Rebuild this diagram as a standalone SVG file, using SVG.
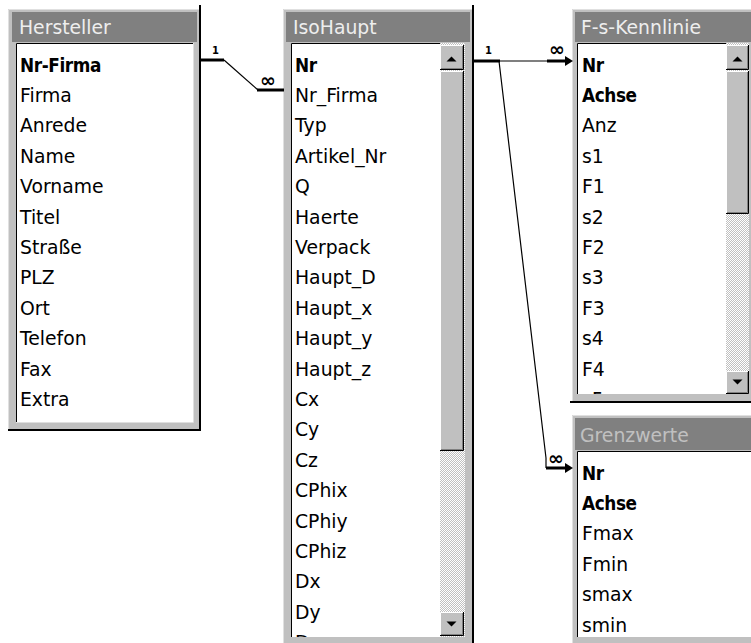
<svg xmlns="http://www.w3.org/2000/svg" width="751" height="643" viewBox="0 0 751 643">
<style>
.frame{fill:#c0c0c0}
.hi{fill:none;stroke:#e0e0e0;stroke-width:1}
.dk{fill:none;stroke:#000;stroke-width:2}
.title{fill:#808080}
.ttext{font-family:"DejaVu Sans",sans-serif;font-size:18.8px;fill:#eeeeee}
.ttext.inactive{fill:#c0c0c0}
.list{fill:#fff}
.sunk{fill:none;stroke:#000;stroke-width:1}
.sunk2{fill:none;stroke:#808080;stroke-width:1}
.sunkhi{fill:none;stroke:#dfdfdf;stroke-width:1}
.f{font-family:"DejaVu Sans",sans-serif;font-size:18.8px;fill:#000}
.k{font-family:"DejaVu Sans Condensed","DejaVu Sans",sans-serif;font-stretch:condensed;font-weight:bold;font-size:18.8px;fill:#000;letter-spacing:-0.4px}
.btn{fill:#c0c0c0}
.bw{fill:none;stroke:#fff;stroke-width:1}
.bb{fill:none;stroke:#000;stroke-width:1}
.bg{fill:none;stroke:#808080;stroke-width:1}
.thin{fill:none;stroke:#000;stroke-width:1.2}
.thick{fill:none;stroke:#000;stroke-width:3}
.lbl{font-family:"DejaVu Sans",sans-serif;font-weight:bold;font-size:10px;fill:#000;text-anchor:middle}
.inf{font-family:"DejaVu Sans",sans-serif;font-weight:bold;font-size:19px;fill:#000;text-anchor:middle}
</style>
<defs>
<pattern id="dither" width="2" height="2" patternUnits="userSpaceOnUse">
<rect width="2" height="2" fill="#c0c0c0"/>
<rect width="1" height="1" fill="#fff"/>
<rect x="1" y="1" width="1" height="1" fill="#fff"/>
</pattern>
<clipPath id="cIso"><rect x="291" y="43" width="149" height="594"/></clipPath>
<clipPath id="cFs"><rect x="577" y="43" width="149" height="351"/></clipPath>
<marker id="arr" viewBox="0 0 8 10" refX="1" refY="5" markerWidth="8" markerHeight="10" markerUnits="userSpaceOnUse" orient="auto">
<path d="M0 0 L8 5 L0 10 Z" fill="#000"/>
</marker>
</defs>
<rect width="751" height="643" fill="#fff"/>

<g id="hersteller">
<rect class="frame" x="8" y="9" width="193" height="422"/>
<path class="hi" d="M8.5 431 V9.5 H200"/>
<path class="dk" d="M200 5 V430 H8"/>
<rect class="title" x="12" y="12" width="185" height="30"/>
<text class="ttext" x="19" y="33.5">Hersteller</text>
<rect class="list" x="16" y="43" width="177" height="379"/>
<path class="sunk" d="M16.5 422 V43.5 H193"/>
<path class="sunkhi" d="M193.5 43 V422.5 H16"/>
<text class="k" x="20" y="71.5">Nr-Firma</text>
<text class="f" x="20" y="101.9">Firma</text>
<text class="f" x="20" y="132.3">Anrede</text>
<text class="f" x="20" y="162.7">Name</text>
<text class="f" x="20" y="193.1">Vorname</text>
<text class="f" x="20" y="223.5">Titel</text>
<text class="f" x="20" y="253.9">Straße</text>
<text class="f" x="20" y="284.3">PLZ</text>
<text class="f" x="20" y="314.7">Ort</text>
<text class="f" x="20" y="345.1">Telefon</text>
<text class="f" x="20" y="375.5">Fax</text>
<text class="f" x="20" y="405.9">Extra</text>
</g>

<g id="isohaupt">
<rect class="frame" x="283" y="9" width="191" height="640"/>
<path class="hi" d="M283.5 643 V9.5 H473"/>
<path class="dk" d="M473 5 V643"/>
<rect class="title" x="286" y="12" width="184" height="30"/>
<text class="ttext" x="293" y="33.5">IsoHaupt</text>
<rect class="list" x="291" y="43" width="174" height="594"/>
<path class="sunk" d="M291.5 637 V43.5 H465"/>
<g clip-path="url(#cIso)">
<text class="k" x="295" y="71.5">Nr</text>
<text class="f" x="295" y="101.9">Nr_Firma</text>
<text class="f" x="295" y="132.3">Typ</text>
<text class="f" x="295" y="162.7">Artikel_Nr</text>
<text class="f" x="295" y="193.1">Q</text>
<text class="f" x="295" y="223.5">Haerte</text>
<text class="f" x="295" y="253.9">Verpack</text>
<text class="f" x="295" y="284.3">Haupt_D</text>
<text class="f" x="295" y="314.7">Haupt_x</text>
<text class="f" x="295" y="345.1">Haupt_y</text>
<text class="f" x="295" y="375.5">Haupt_z</text>
<text class="f" x="295" y="405.9">Cx</text>
<text class="f" x="295" y="436.3">Cy</text>
<text class="f" x="295" y="466.7">Cz</text>
<text class="f" x="295" y="497.1">CPhix</text>
<text class="f" x="295" y="527.5">CPhiy</text>
<text class="f" x="295" y="557.9">CPhiz</text>
<text class="f" x="295" y="588.3">Dx</text>
<text class="f" x="295" y="618.7">Dy</text>
<text class="f" x="295" y="649.1">Dz</text>
</g>
<rect x="440" y="43" width="25" height="594" fill="url(#dither)"/>
<rect class="btn" x="440" y="45" width="24" height="25"/>
<path class="bw" d="M440.5 70 V45.5 H464"/>
<path class="bb" d="M440 69.5 H463.5 V45"/>
<path class="bg" d="M441 68.5 H462.5 V46"/>
<path d="M446.5 61.5 H456.5 L451.5 56.5 Z" fill="#000"/>
<rect class="btn" x="440" y="71" width="24" height="380"/>
<path class="bw" d="M440.5 451 V71.5 H464"/>
<path class="bb" d="M440 450.5 H463.5 V71"/>
<path class="bg" d="M441 449.5 H462.5 V72"/>
<rect class="btn" x="440" y="612" width="24" height="24"/>
<path class="bw" d="M440.5 636 V612.5 H464"/>
<path class="bb" d="M440 635.5 H463.5 V612"/>
<path class="bg" d="M441 634.5 H462.5 V613"/>
<path d="M446.5 621.5 H456.5 L451.5 626.5 Z" fill="#000"/>
</g>

<g id="fs-kennlinie">
<rect class="frame" x="572" y="9" width="179" height="394"/>
<path class="hi" d="M572.5 403 V9.5 H751"/>
<path class="dk" d="M570 402 H751"/>
<rect class="title" x="575" y="12" width="176" height="30"/>
<text class="ttext" x="581" y="33.5">F-s-Kennlinie</text>
<rect class="list" x="577" y="43" width="172" height="351"/>
<path class="sunk" d="M577.5 394 V43.5 H749"/>
<g clip-path="url(#cFs)">
<text class="k" x="582" y="71.5">Nr</text>
<text class="k" x="582" y="101.9">Achse</text>
<text class="f" x="582" y="132.3">Anz</text>
<text class="f" x="582" y="162.7">s1</text>
<text class="f" x="582" y="193.1">F1</text>
<text class="f" x="582" y="223.5">s2</text>
<text class="f" x="582" y="253.9">F2</text>
<text class="f" x="582" y="284.3">s3</text>
<text class="f" x="582" y="314.7">F3</text>
<text class="f" x="582" y="345.1">s4</text>
<text class="f" x="582" y="375.5">F4</text>
<text class="f" x="582" y="405.9">s5</text>
</g>
<rect x="726" y="43" width="23" height="351" fill="url(#dither)"/>
<rect class="btn" x="726" y="45" width="23" height="25"/>
<path class="bw" d="M726.5 70 V45.5 H749"/>
<path class="bb" d="M726 69.5 H748.5 V45"/>
<path class="bg" d="M727 68.5 H747.5 V46"/>
<path d="M732.5 61.5 H742.5 L737.5 56.5 Z" fill="#000"/>
<rect class="btn" x="726" y="71" width="23" height="143"/>
<path class="bw" d="M726.5 214 V71.5 H749"/>
<path class="bb" d="M726 213.5 H748.5 V71"/>
<path class="bg" d="M727 212.5 H747.5 V72"/>
<rect class="btn" x="726" y="371" width="23" height="23"/>
<path class="bw" d="M726.5 394 V371.5 H749"/>
<path class="bb" d="M726 393.5 H748.5 V371"/>
<path class="bg" d="M727 392.5 H747.5 V372"/>
<path d="M732.5 379.5 H742.5 L737.5 384.5 Z" fill="#000"/>
</g>

<g id="grenzwerte">
<rect class="frame" x="572" y="415" width="179" height="228"/>
<path class="hi" d="M572.5 643 V415.5 H751"/>
<rect class="title" x="575" y="418" width="176" height="32"/>
<text class="ttext inactive" x="580" y="442">Grenzwerte</text>
<rect class="list" x="577" y="451" width="174" height="186"/>
<path class="sunk" d="M577.5 637 V451.5 H751"/>
<text class="k" x="582" y="479.5">Nr</text>
<text class="k" x="582" y="509.9">Achse</text>
<text class="f" x="582" y="540.3">Fmax</text>
<text class="f" x="582" y="570.7">Fmin</text>
<text class="f" x="582" y="601.1">smax</text>
<text class="f" x="582" y="631.5">smin</text>
</g>

<g id="connectors">
<path class="thick" d="M201 60 H224"/>
<path class="thin" d="M224 60 L258 90"/>
<path class="thick" d="M257 90 H284"/>
<text class="lbl" x="215.5" y="54">1</text>
<text class="inf" x="268" y="87">∞</text>

<path class="thick" d="M474 61 H500"/>
<path class="thin" d="M499 61 H548"/>
<path class="thick" d="M547 61 H566" marker-end="url(#arr)"/>
<text class="lbl" x="488.5" y="54">1</text>
<text class="inf" x="557" y="56">∞</text>

<path class="thin" d="M499 61 L546 458 V468"/>
<path class="thick" d="M546 468 H566" marker-end="url(#arr)"/>
<text class="inf" x="556" y="465">∞</text>
</g>
</svg>
